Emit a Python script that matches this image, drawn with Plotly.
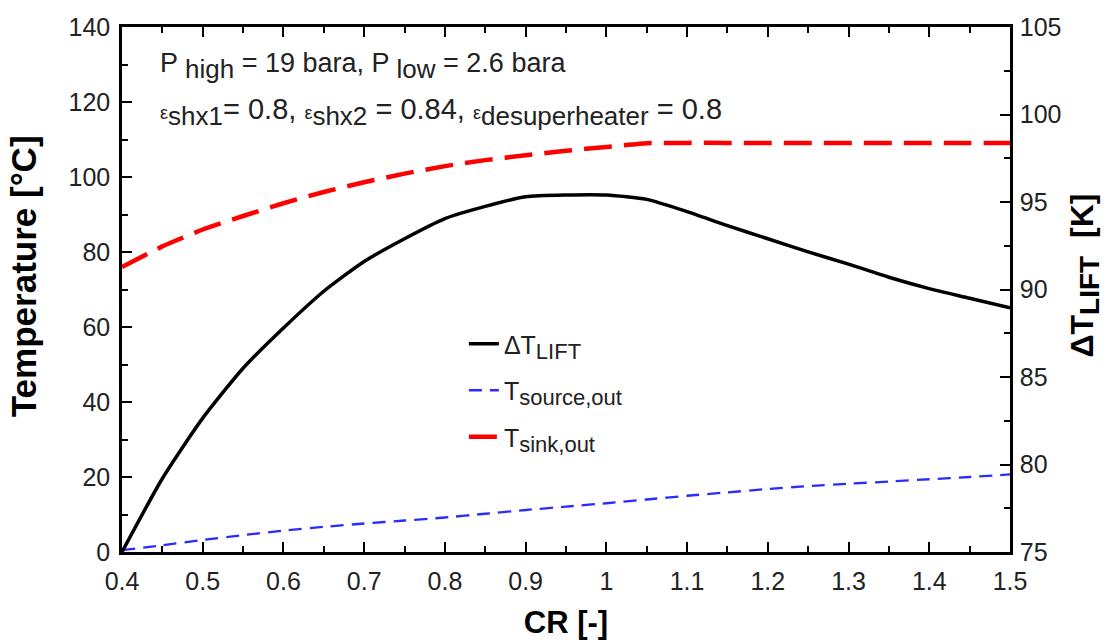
import plotly.graph_objects as go

# Compression ratio sweep
cr = [0.40, 0.45, 0.50, 0.55, 0.60, 0.65, 0.70, 0.75, 0.80, 0.85, 0.90, 0.95,
      1.00, 1.05, 1.10, 1.15, 1.20, 1.25, 1.30, 1.35, 1.40, 1.45, 1.50]

# Temperature lift [K] (right axis)
dt_lift = [75.0, 79.2, 82.65, 85.5, 87.8, 89.9, 91.6, 92.9, 94.05, 94.75, 95.3, 95.4,
           95.4, 95.15, 94.45, 93.65, 92.9, 92.15, 91.45, 90.7, 90.05, 89.5, 88.95]

# Source outlet temperature [°C] (left axis)
t_source_out = [0.5, 1.8, 3.2, 4.5, 5.7, 6.7, 7.6, 8.4, 9.2, 10.2, 11.2, 12.1,
                13.0, 14.0, 15.0, 15.9, 16.8, 17.6, 18.2, 18.8, 19.4, 20.0, 20.7]

# Sink outlet temperature [°C] (left axis)
t_sink_out = [76.0, 81.5, 86.0, 89.6, 93.0, 96.0, 98.6, 100.9, 102.9, 104.5, 105.8, 107.0,
              108.0, 109.0, 109.1, 109.1, 109.1, 109.1, 109.1, 109.1, 109.1, 109.1, 109.1]

FONT = "Liberation Sans, Arial, sans-serif"
TXT = "#222"


def sub(s, px):
    # subscript rendered at an explicit pixel size
    return f"<sub><span style='font-size:{px}px'>{s}</span></sub>"


fig = go.Figure()

fig.add_trace(go.Scatter(
    x=cr, y=dt_lift, yaxis="y2", mode="lines",
    name="ΔT" + sub("LIFT", 22), legendgroup="a",
    line=dict(color="black", width=3.5, shape="spline", smoothing=0.6),
))
fig.add_trace(go.Scatter(
    x=cr, y=t_source_out, mode="lines",
    name="T" + sub("source,out", 22), legendgroup="b",
    line=dict(color="#2b2bff", width=2.3, dash="13px,8px", shape="spline", smoothing=0.5),
))
fig.add_trace(go.Scatter(
    x=cr, y=t_sink_out, mode="lines",
    name="T" + sub("sink,out", 22), legendgroup="c",
    line=dict(color="#ff0000", width=4.5, dash="28px,12px", shape="spline", smoothing=0.4),
))

axis_common = dict(
    showgrid=False, zeroline=False, automargin=False,
    showline=True, linecolor="black", linewidth=2.5,
    ticks="inside", tickcolor="black", tickwidth=2, ticklen=10,
    tickfont=dict(family=FONT, size=25, color=TXT),
)
minor_common = dict(ticks="inside", ticklen=6, tickwidth=1.5, tickcolor="black")

fig.update_layout(
    width=1117, height=644,
    margin=dict(l=122, r=107, t=27, b=92),
    paper_bgcolor="white", plot_bgcolor="white",
    font=dict(family=FONT, color="black"),
    xaxis=dict(
        **axis_common,
        range=[0.4, 1.5], dtick=0.1, tick0=0.4,
        mirror="ticks",
        ticklabelstandoff=5,
        minor=dict(dtick=0.05, **minor_common),
        title=dict(text="<b>CR [-]</b>", font=dict(size=31, family=FONT), standoff=18),
    ),
    yaxis=dict(
        **axis_common,
        range=[0, 140], dtick=20,
        ticklabelstandoff=4,
        minor=dict(dtick=10, **minor_common),
    ),
    yaxis2=dict(
        **axis_common,
        overlaying="y", side="right",
        range=[75, 105], dtick=5,
        ticklabelstandoff=2,
        minor=dict(dtick=2.5, **minor_common),
    ),
    legend=dict(
        x=0.385, y=0.44, xanchor="left", yanchor="top",
        bgcolor="rgba(0,0,0,0)",
        font=dict(size=25, family=FONT, color=TXT),
        tracegroupgap=11,
    ),
    showlegend=True,
)

# Axis titles for the two y axes
fig.add_annotation(
    xref="paper", yref="paper", x=-0.11, y=0.526, xanchor="center", yanchor="middle",
    text="<b>Temperature [°C]</b>", textangle=-90, showarrow=False,
    font=dict(size=35, family=FONT, color="black"),
)
fig.add_annotation(
    xref="paper", yref="paper", x=1.084, y=0.526, xanchor="center", yanchor="middle",
    text="<b>ΔT" + sub("LIFT", 28) + "  [K]</b>", textangle=-90, showarrow=False,
    font=dict(size=32, family=FONT, color="black"),
)

# Operating conditions
fig.add_annotation(
    xref="paper", yref="paper", x=0.04, y=0.925, xanchor="left", yanchor="middle",
    text="P " + sub("high", 26) + " = 19 bara, P " + sub("low", 26) + " = 2.6 bara",
    showarrow=False, font=dict(size=27, family=FONT, color=TXT),
)
eps = "<span style='font-size:18px'>ε</span>"
fig.add_annotation(
    xref="paper", yref="paper", x=0.04, y=0.838, xanchor="left", yanchor="middle",
    text=eps + sub("shx1", 26) + "= 0.8, " + eps + sub("shx2", 26) + " = 0.84, "
         + eps + sub("desuperheater", 26) + " = 0.8",
    showarrow=False, font=dict(size=29, family=FONT, color=TXT),
)

fig.write_html("out.html")
